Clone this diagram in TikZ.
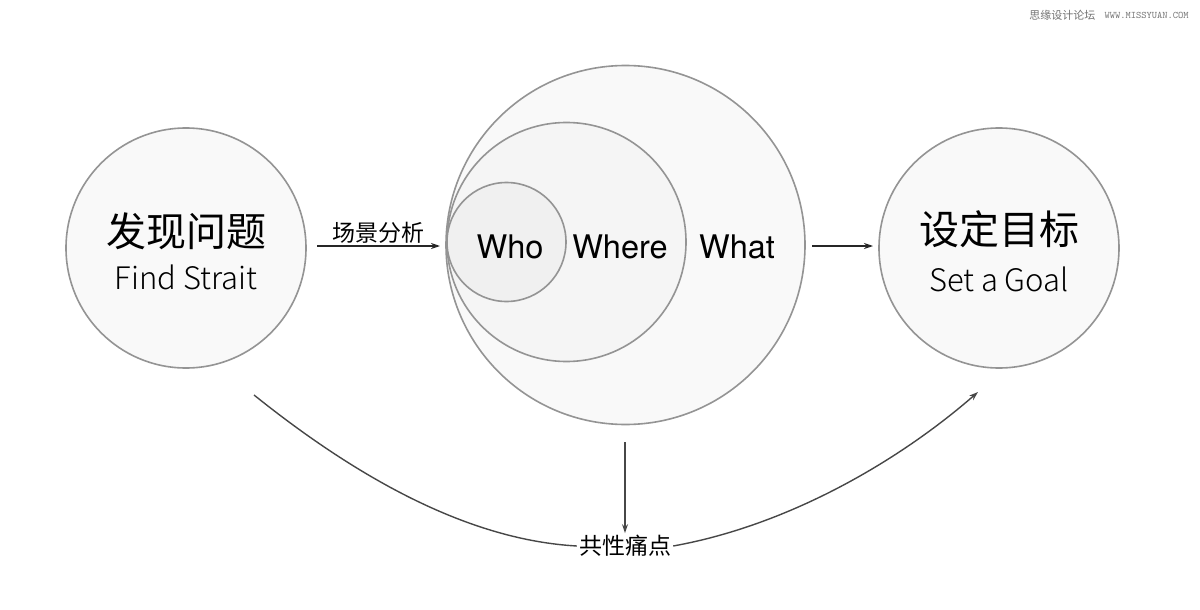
\documentclass[tikz,border=0pt]{standalone}
\usepackage{fontspec}
\setmainfont{TeX Gyre Heros}
\newfontfamily\cjk{Noto Sans CJK SC}
\newfontfamily\thinfont{Noto Sans CJK SC Light}
\usetikzlibrary{arrows.meta}
\begin{document}
\begin{tikzpicture}[x=1pt,y=-1pt,
  ring/.style={circle,draw=black!42,line width=1.6pt,inner sep=0pt},
  conn/.style={draw=black!72,line width=1.4pt},
  tip/.style={-{Stealth[length=9pt,width=6pt]}},
  big/.style={font=\cjk\fontsize{40}{44}\selectfont},
  sub/.style={font=\thinfont\fontsize{31}{34}\selectfont},
  www/.style={font=\fontsize{32.5}{36}\selectfont},
  lab/.style={font=\cjk\fontsize{23}{26}\selectfont,fill=white,inner sep=2pt}]
\useasboundingbox (0,0) rectangle (1200,610);
\fill[white] (0,0) rectangle (1200,610);
% circles
\node[ring,fill=black!2.5,minimum size=240pt] (find) at (186,248) {};
\node[ring,fill=black!2.5,minimum size=359pt] (what) at (625.5,245) {};
\node[ring,fill=black!4,minimum size=239pt] (where) at (566.5,242) {};
\node[ring,fill=black!6,minimum size=119pt] (who) at (506.5,242) {};
\node[ring,fill=black!2.5,minimum size=240pt] (goal) at (999,248) {};
% texts
\node[big] (t1) at (186,231) {发现问题};
\node[sub] (t2) at (186,277) {Find Strait};
\node[big] (t3) at (999,229) {设定目标};
\node[sub] (t4) at (999,279) {Set a Goal};
\node[www] (w1) at (510,247) {Who};
\node[www] (w2) at (620,247) {Where};
\node[www] (w3) at (737,247) {What};
% watermark
\node[font=\cjk\fontsize{11}{12}\selectfont,text=black!55,anchor=east] (wm1) at (1099,15) {思缘设计论坛};
\node[font=\ttfamily\fontsize{10}{12}\selectfont,text=black!55,anchor=west] (wm2) at (1101,15) {WWW.MISSYUAN.COM};
% arrows
\coordinate (a1s) at (317,246);
\coordinate (a1e) at (440,246);
\draw[conn,tip,draw=black!85,line width=1.3pt] (a1s) -- (a1e) node[midway,above=-1pt,font=\cjk\fontsize{23}{26}\selectfont] (l1) {场景分析};
\coordinate (a2s) at (812,246);
\coordinate (a2e) at (873,246);
\draw[conn,tip,draw=black!85,line width=1.3pt] (a2s) -- (a2e);
\node[lab] (pain) at (625,546) {共性痛点};
\coordinate (d1) at (625,442);
\draw[conn,tip] (d1) -- (pain.north);
\coordinate (cl) at (254,395);
\coordinate (cr) at (978,392);
\draw[conn] (cl) .. controls (360,480) and (470,540) .. (pain.west);
\draw[conn,tip] (pain.east) .. controls (790,525) and (900,460) .. (cr);
\end{tikzpicture}
\end{document}
